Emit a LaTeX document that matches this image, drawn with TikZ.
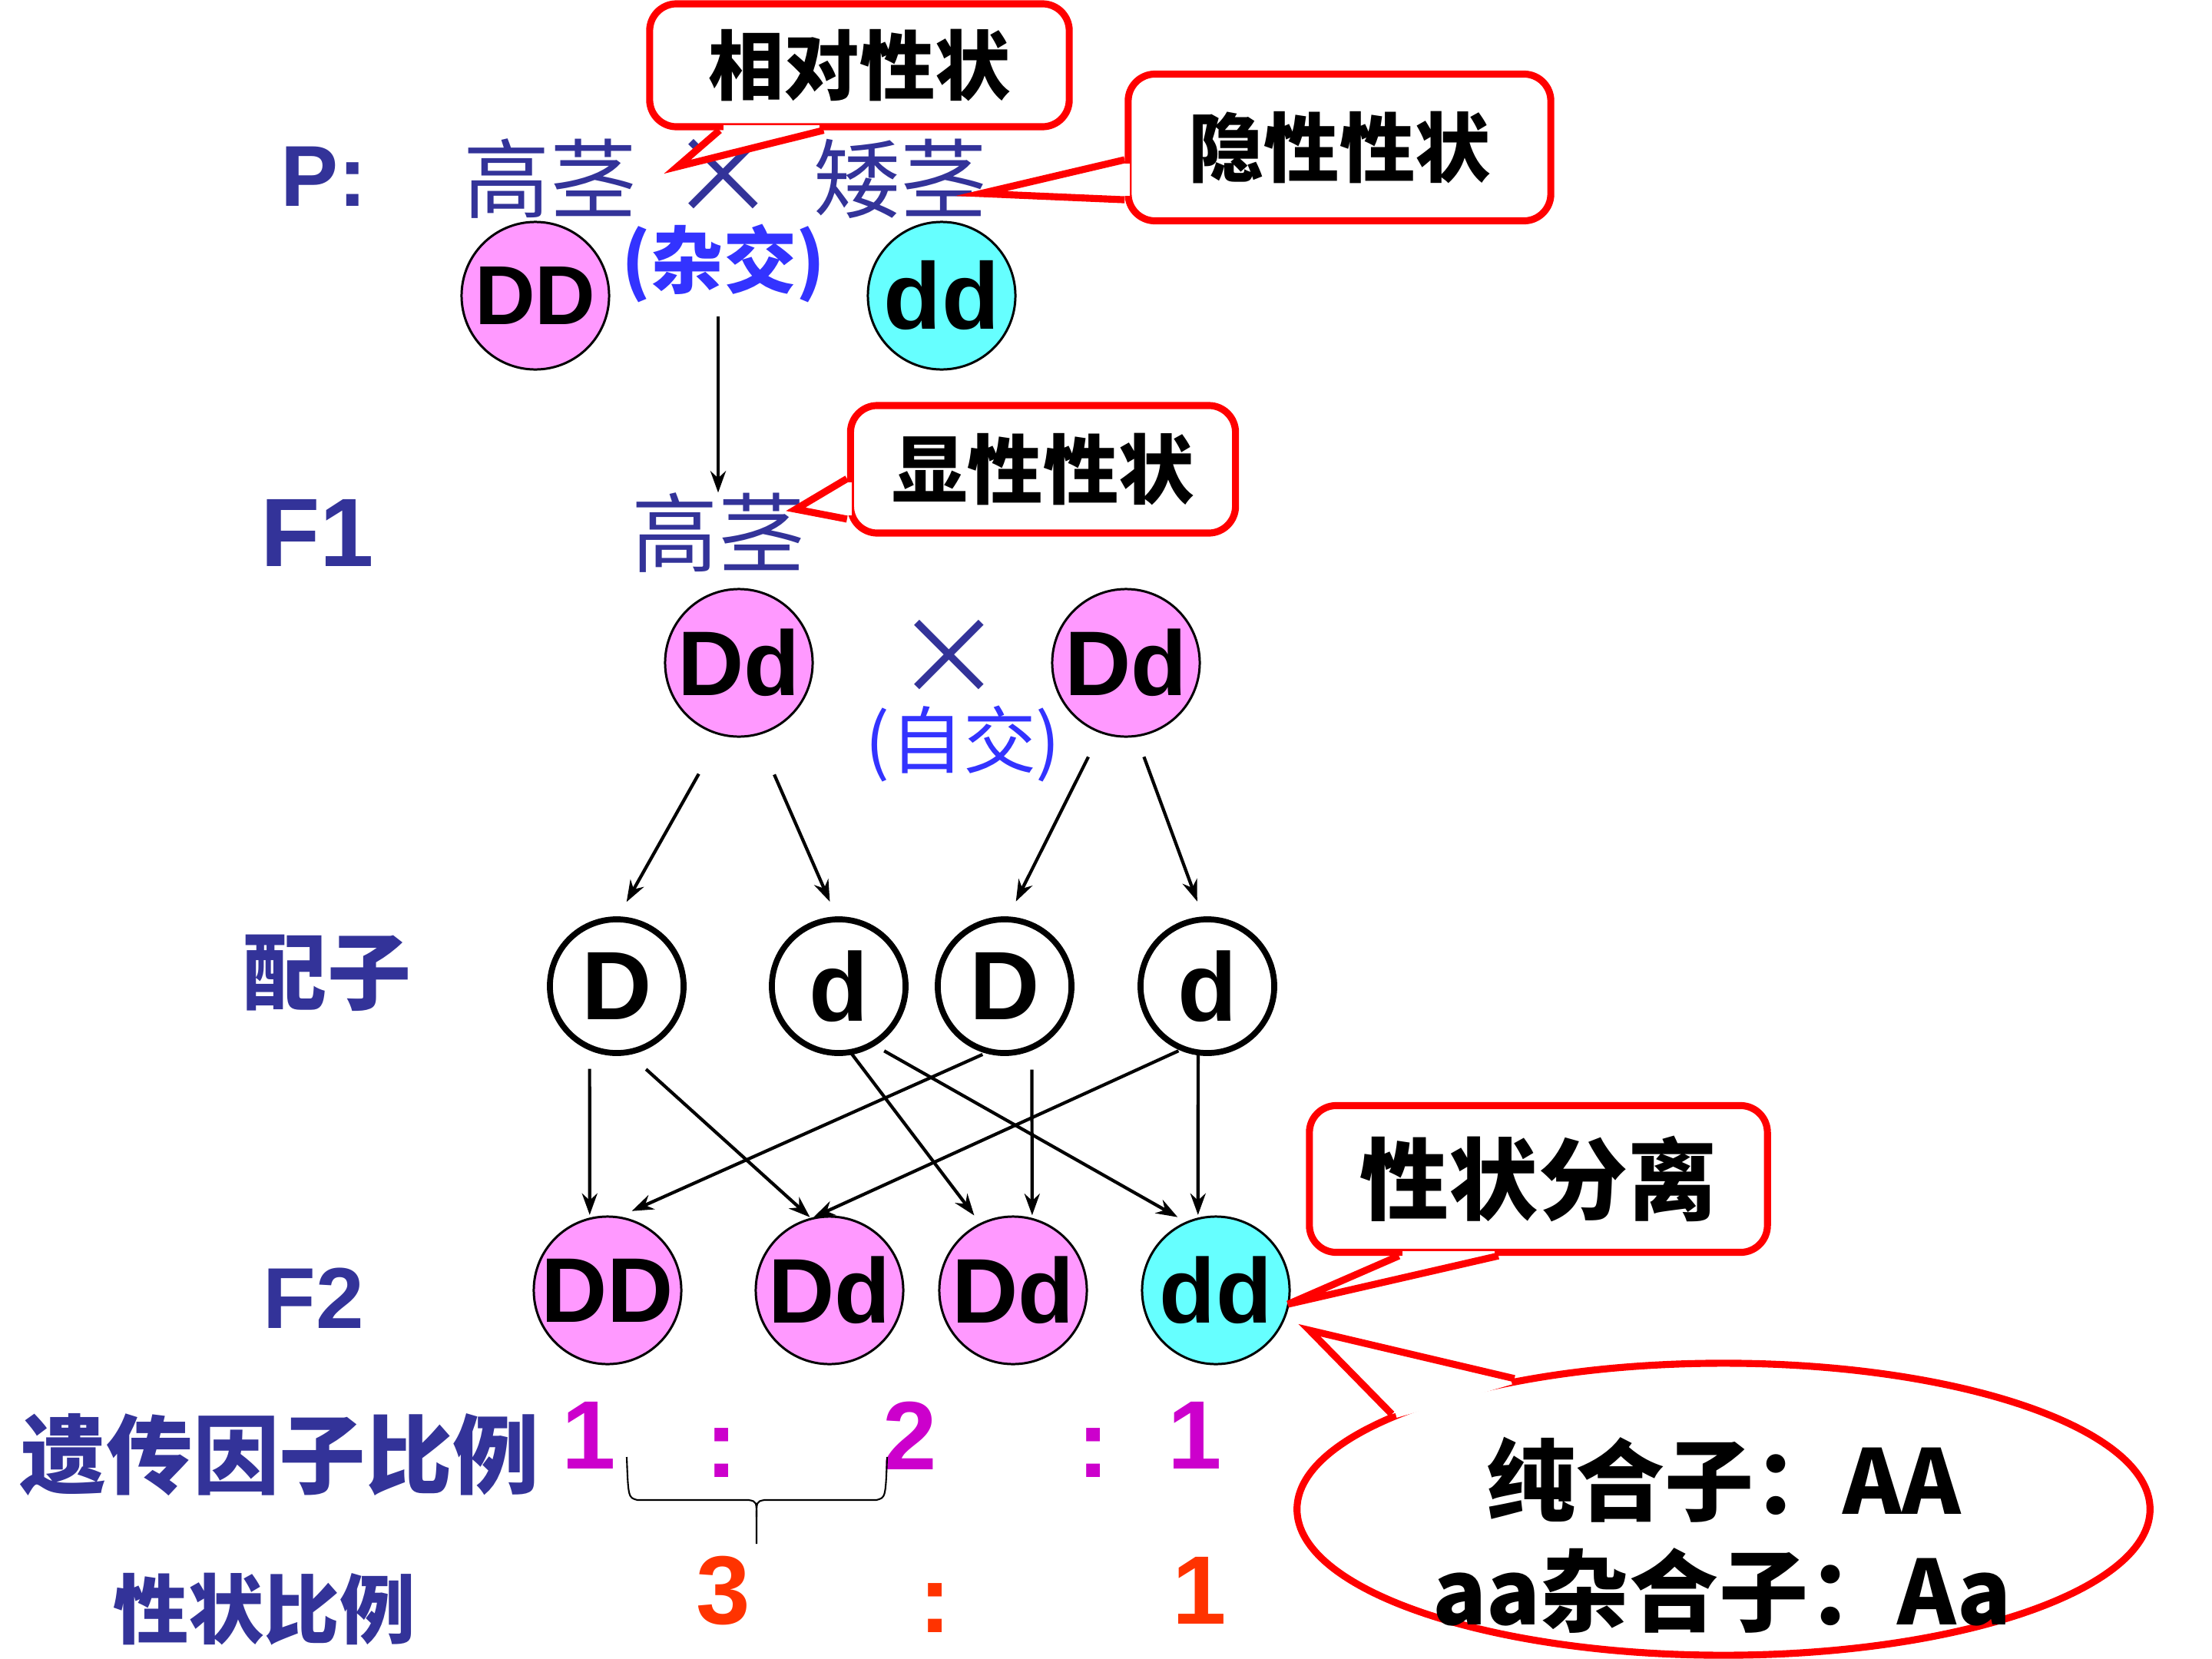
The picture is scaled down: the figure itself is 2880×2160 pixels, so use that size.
\documentclass[tikz,border=0pt]{standalone}
\usepackage{fontspec}
\setmainfont{Liberation Sans}
\newfontfamily\cjk{Noto Sans CJK SC}
\usetikzlibrary{arrows.meta, shapes.geometric, calc}

\definecolor{labelblue}{HTML}{333399}
\definecolor{crossblue}{HTML}{3333FF}
\definecolor{tallpink}{HTML}{FF99FF}
\definecolor{shortcyan}{HTML}{66FFFF}
\definecolor{ratiomag}{HTML}{CC00CC}
\definecolor{ratioorange}{HTML}{FF3300}
\definecolor{calloutred}{HTML}{FF0000}

\newcommand{\fsz}[1]{\fontsize{#1}{#1}\selectfont}

\begin{document}
\begin{tikzpicture}[
    x=0.01cm, y=-0.01cm,
    >={Stealth[length=0.28cm, width=0.2cm]},
    stagelabel/.style={font=\fsz{32pt}\bfseries, text=labelblue, inner sep=0pt},
    cnlabel/.style={font=\cjk\fsz{32pt}\bfseries, text=labelblue, inner sep=0pt},
    traittext/.style={font=\cjk\fsz{32pt}, text=labelblue, inner sep=0pt},
    crosssign/.style={font=\cjk\fsz{40pt}, text=labelblue, inner sep=0pt},
    matingtext/.style={font=\cjk\fsz{27pt}, text=crossblue, inner sep=0pt},
    geno/.style={circle, draw, line width=0.85pt, minimum size=1.92cm,
                 inner sep=0pt, outer sep=0pt, font=\fsz{34pt}\bfseries},
    tallgeno/.style={geno, fill=tallpink},
    shortgeno/.style={geno, fill=shortcyan},
    gamete/.style={circle, draw, line width=2.2pt, fill=white, minimum size=1.74cm,
                   inner sep=0pt, outer sep=0pt, font=\fsz{36pt}\bfseries},
    arr/.style={->, line width=1.2pt},
    notebox/.style={draw=calloutred, line width=2.6pt, fill=white,
                    rounded corners=0.35cm, font=\cjk\fsz{28pt}\bfseries, inner sep=0pt},
    tipline/.style={draw=calloutred, line width=2.6pt, line join=miter},
    tippatch/.style={draw=white, line width=3.6pt, shorten <=1.4pt, shorten >=1.4pt},
    ratiotext/.style={font=\fsz{36pt}\bfseries, inner sep=0pt},
    zygtext/.style={font=\cjk\fsz{33pt}\bfseries, inner sep=0pt}
  ]
  \fill[white] (0,0) rectangle (2880,2160);
  \useasboundingbox (0,0) rectangle (2880,2160);

  % generation labels
  \node[stagelabel] (p) at (422,230) {P:};
  \node[stagelabel, font=\fsz{36pt}\bfseries] (f1) at (413,694) {F1};
  \node[cnlabel, font=\cjk\fsz{31pt}\bfseries] (gam) at (426,1267) {配子};
  \node[stagelabel] (f2) at (408,1690) {F2};
  \node[cnlabel] (genratio) at (364,1894) {遗传因子比例};
  \node[cnlabel, font=\cjk\fsz{28pt}\bfseries] (phenratio) at (344,2095) {性状比例};

  % P
  \node[traittext] (ptall) at (716,233) {高茎};
  \node[crosssign] (pcross) at (942,230) {×};
  \node[traittext] (pshort) at (1172,233) {矮茎};
  \node[tallgeno, font=\fsz{31pt}\bfseries] (pDD) at (697,385) {DD};
  \node[matingtext, font=\cjk\fsz{27pt}\bfseries] (hybrid) at (942,343) {(杂交)};
  \node[shortgeno, font=\fsz{35pt}\bfseries] (pdd) at (1226,385) {dd};

  % F1
  \node[traittext] (ftall) at (935,694) {高茎};
  \node[tallgeno] (fL) at (962,863) {Dd};
  \node[crosssign] (fcross) at (1236,856) {×};
  \node[tallgeno] (fR) at (1466,863) {Dd};
  \node[matingtext] (selfing) at (1254,968) {(自交)};

  \draw[arr, line width=1.4pt, shorten <=0.17cm] (ftall.north |- hybrid.south) -- (ftall.north);

  % gametes
  \node[gamete] (gD1) at (803,1284) {D};
  \node[gamete] (gd1) at (1092,1284) {d};
  \node[gamete] (gD2) at (1308,1284) {D};
  \node[gamete] (gd2) at (1572,1284) {d};

  \draw[arr, shorten <=0.59cm, shorten >=0.26cm] (fL.-104) -- (gD1.90);
  \draw[arr, shorten <=0.57cm, shorten >=0.25cm] (fL.-76) -- (gd1.91);
  \draw[arr, shorten <=0.36cm, shorten >=0.26cm] (fR.-110) -- (gD2.88);
  \draw[arr, shorten <=0.29cm, shorten >=0.25cm] (fR.-82) -- (gd2.93);

  % F2
  \node[tallgeno] (oDD) at (791,1680) {DD};
  \node[tallgeno] (oDd1) at (1080,1680) {Dd};
  \node[tallgeno] (oDd2) at (1319,1680) {Dd};
  \node[shortgeno] (odd) at (1583,1680) {dd};

  \draw[arr, shorten <=0.28cm, shorten >=0.05cm] (gD1.-114) -- (oDD.104);
  \draw[arr, shorten <=0.33cm, shorten >=0.03cm] (gD1.-81) -- (oDd1.104);
  \draw[arr, shorten <=0.1cm, shorten >=0.2cm] (gD2.-103) -- (oDD.82);
  \draw[arr, shorten <=0.29cm, shorten >=0.05cm] (gD2.-66) -- (oDd2.75);
  \draw[arr, shorten >=0.14cm] (gd1.-80) -- (oDd2.116);
  \draw[arr, shorten <=0.18cm, shorten >=0.14cm] (gd1.-60) -- (odd.113);
  \draw[arr, shorten <=0.07cm, shorten >=0.08cm] (gd2.-111) -- (oDd1.107);
  \draw[arr, shorten >=0.05cm] (gd2.-98) -- (odd.104);

  % ratios
  \node[ratiotext, text=ratiomag] (r1) at (767,1869) {1};
  \node[ratiotext, text=ratiomag] (c1) at (940,1892) {:};
  \node[ratiotext, text=ratiomag] (r2) at (1185,1869) {2};
  \node[ratiotext, text=ratiomag] (c2) at (1424,1892) {:};
  \node[ratiotext, text=ratiomag] (r3) at (1556,1869) {1};
  \node[ratiotext, text=ratioorange] (s1) at (942,2071) {3};
  \node[ratiotext, text=ratioorange] (c3) at (1218,2094) {:};
  \node[ratiotext, text=ratioorange] (s2) at (1562,2071) {1};

  \draw[line width=0.6pt] (816,1897) .. controls (818,1950) .. (830,1953) -- (975,1953)
    .. controls (985,1955) .. (985,1975) -- (985,2010);
  \draw[line width=0.6pt] (1155,1897) .. controls (1153,1950) .. (1141,1953) -- (995,1953)
    .. controls (985,1955) .. (985,1975);

  % callouts
  \node[notebox, minimum width=5.46cm, minimum height=1.6cm] (relnote) at (1119,85) {相对性状};
  \coordinate (relA) at ($(relnote.south west)!0.172!(relnote.south east)$);
  \coordinate (relB) at ($(relnote.south west)!0.416!(relnote.south east)$);
  \coordinate (reltip) at (882,217);
  \fill[white] (relA) -- (reltip) -- (relB) -- cycle;
  \draw[tippatch] (relA) -- (relB);
  \draw[tipline] (relA) -- (reltip) -- (relB);

  \node[notebox, minimum width=5.5cm, minimum height=1.91cm] (recnote) at (1744,192) {隐性性状};
  \coordinate (recA) at ($(recnote.north west)!0.58!(recnote.south west)$);
  \coordinate (recB) at ($(recnote.north west)!0.84!(recnote.south west)$);
  \coordinate (rectip) at (1277,252);
  \fill[white] (recA) -- (rectip) -- (recB) -- cycle;
  \draw[tippatch] (recA) -- (recB);
  \draw[tipline] (recA) -- (rectip) -- (recB);

  \node[notebox, minimum width=5.01cm, minimum height=1.66cm] (domnote) at (1358,611) {显性性状};
  \coordinate (domA) at ($(domnote.north west)!0.57!(domnote.south west)$);
  \coordinate (domB) at ($(domnote.north west)!0.87!(domnote.south west)$);
  \coordinate (domtip) at (1036,663);
  \fill[white] (domA) -- (domtip) -- (domB) -- cycle;
  \draw[tippatch] (domA) -- (domB);
  \draw[tipline] (domA) -- (domtip) -- (domB);

  \node[notebox, font=\cjk\fsz{33pt}\bfseries, minimum width=5.96cm, minimum height=1.91cm]
    (segnote) at (2003,1535) {性状分离};
  \coordinate (segA) at ($(segnote.south west)!0.2!(segnote.south east)$);
  \coordinate (segB) at ($(segnote.south west)!0.414!(segnote.south east)$);
  \coordinate (segtip) at (1677,1698);
  \fill[white] (segA) -- (segtip) -- (segB) -- cycle;
  \draw[tippatch] (segA) -- (segB);
  \draw[tipline] (segA) -- (segtip) -- (segB);

  \node[ellipse, draw=calloutred, line width=2.6pt, fill=white, minimum width=11.1cm,
        minimum height=3.8cm, inner sep=0pt] (zygnote) at (2244,1965) {};
  \coordinate (zygtip) at (1705,1732);
  \fill[white] (zygnote.148) -- (zygtip) -- (zygnote.164) -- cycle;
  \draw[tippatch] (zygnote.148) -- (zygnote.164);
  \draw[tipline] (zygnote.148) -- (zygtip) -- (zygnote.164);
  \node[zygtext] (homo) at (2244,1927) {纯合子：AA};
  \node[zygtext] (hetero) at (2242,2071) {aa杂合子：Aa};
\end{tikzpicture}
\end{document}
